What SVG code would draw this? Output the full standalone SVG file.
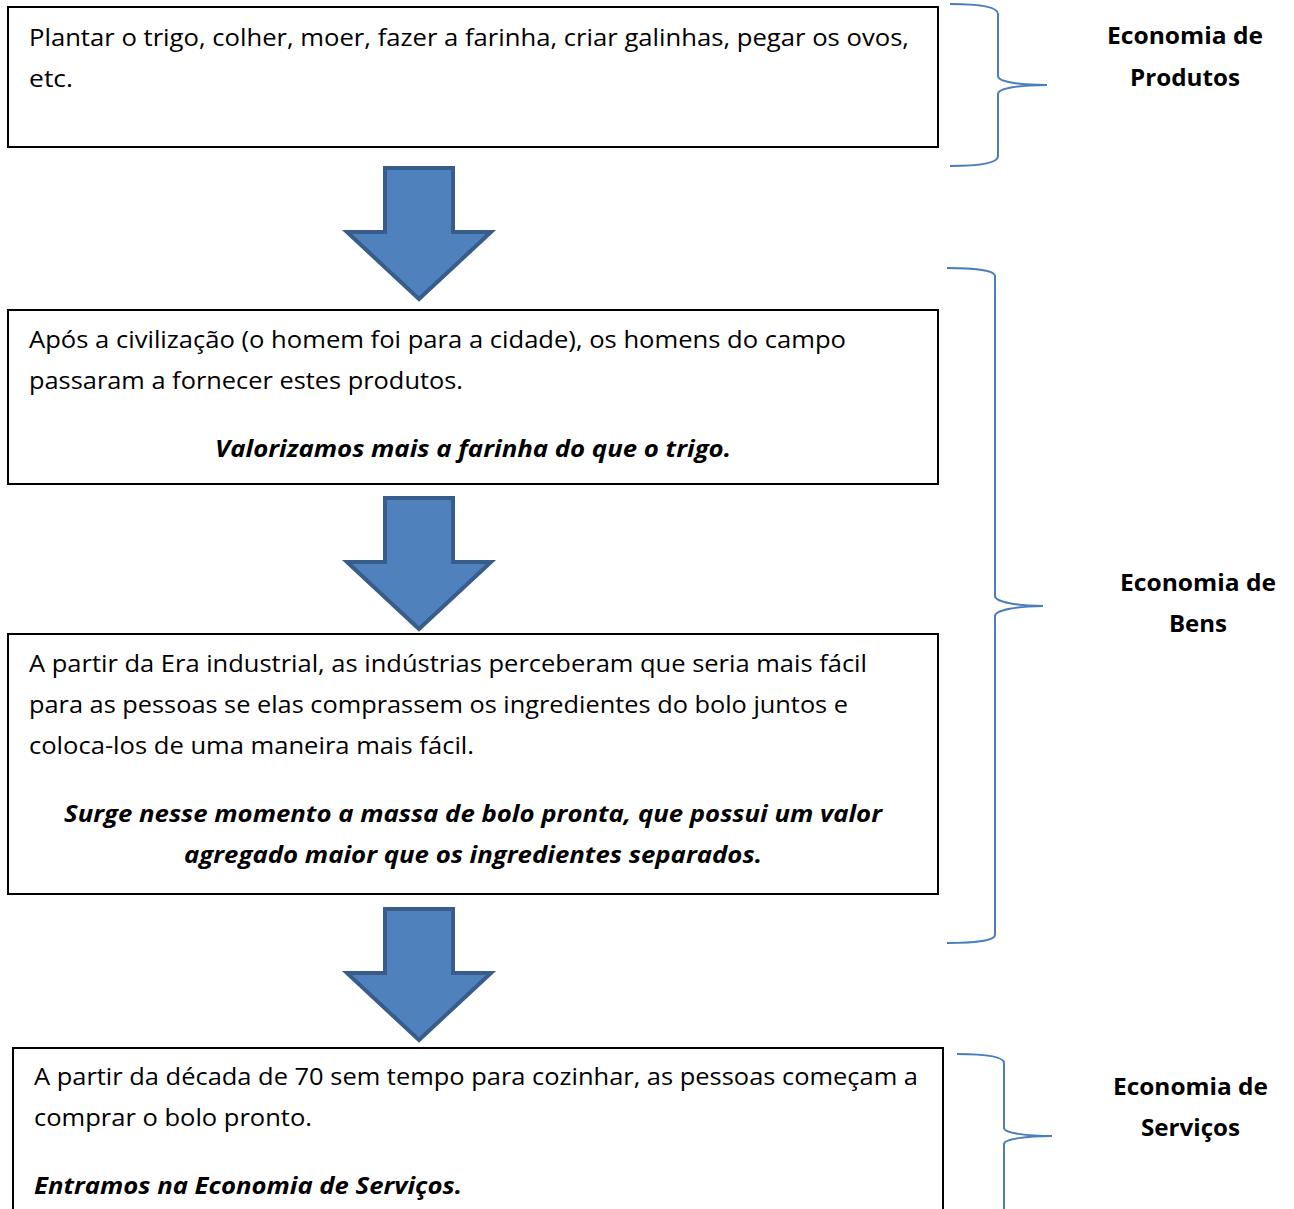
<svg xmlns="http://www.w3.org/2000/svg" width="1294" height="1209" viewBox="0 0 1294 1209">
<style>
.box{fill:#fff;stroke:#000;stroke-width:2}
.t{font-family:"Open Sans","Noto Sans","Liberation Sans",sans-serif;font-size:24px;fill:#000}
.bi{font-weight:bold;font-style:italic}
.b{font-weight:bold}
.arrow{fill:#4F81BD;stroke:#385D8A;stroke-width:4;stroke-linejoin:miter}
.brace{fill:none;stroke:#4A7EBB;stroke-width:2}
</style>
<rect width="1294" height="1209" fill="#fff"/>
<g id="box1">
<rect class="box" x="8" y="7" width="930" height="140"/>
<text class="t" x="29" y="46" textLength="880" lengthAdjust="spacingAndGlyphs">Plantar o trigo, colher, moer, fazer a farinha, criar galinhas, pegar os ovos,</text>
<text class="t" x="29" y="87" textLength="44" lengthAdjust="spacingAndGlyphs">etc.</text>
</g>
<g id="box2">
<rect class="box" x="8" y="310" width="930" height="174"/>
<text class="t" x="29" y="348" textLength="817" lengthAdjust="spacingAndGlyphs">Após a civilização (o homem foi para a cidade), os homens do campo</text>
<text class="t" x="29" y="389" textLength="434" lengthAdjust="spacingAndGlyphs">passaram a fornecer estes produtos.</text>
<text class="t bi" x="215" y="457" textLength="516" lengthAdjust="spacingAndGlyphs">Valorizamos mais a farinha do que o trigo.</text>
</g>
<g id="box3">
<rect class="box" x="8" y="634" width="930" height="260"/>
<text class="t" x="29" y="672" textLength="838" lengthAdjust="spacingAndGlyphs">A partir da Era industrial, as indústrias perceberam que seria mais fácil</text>
<text class="t" x="29" y="713" textLength="819" lengthAdjust="spacingAndGlyphs">para as pessoas se elas comprassem os ingredientes do bolo juntos e</text>
<text class="t" x="29" y="754" textLength="445" lengthAdjust="spacingAndGlyphs">coloca-los de uma maneira mais fácil.</text>
<text class="t bi" x="64" y="822" textLength="818" lengthAdjust="spacingAndGlyphs">Surge nesse momento a massa de bolo pronta, que possui um valor</text>
<text class="t bi" x="184" y="863" textLength="578" lengthAdjust="spacingAndGlyphs">agregado maior que os ingredientes separados.</text>
</g>
<g id="box4">
<rect class="box" x="13" y="1048" width="930" height="200"/>
<text class="t" x="34" y="1085" textLength="884" lengthAdjust="spacingAndGlyphs">A partir da década de 70 sem tempo para cozinhar, as pessoas começam a</text>
<text class="t" x="34" y="1126" textLength="278" lengthAdjust="spacingAndGlyphs">comprar o bolo pronto.</text>
<text class="t bi" x="34" y="1194" textLength="428" lengthAdjust="spacingAndGlyphs">Entramos na Economia de Serviços.</text>
</g>
<g id="label-produtos">
<text class="t b" x="1107" y="44" textLength="156" lengthAdjust="spacingAndGlyphs">Economia de</text>
<text class="t b" x="1130" y="86" textLength="110" lengthAdjust="spacingAndGlyphs">Produtos</text>
</g>
<g id="label-bens">
<text class="t b" x="1120" y="591" textLength="156" lengthAdjust="spacingAndGlyphs">Economia de</text>
<text class="t b" x="1169" y="632" textLength="58" lengthAdjust="spacingAndGlyphs">Bens</text>
</g>
<g id="label-servicos">
<text class="t b" x="1113" y="1095" textLength="155" lengthAdjust="spacingAndGlyphs">Economia de</text>
<text class="t b" x="1141" y="1136" textLength="99" lengthAdjust="spacingAndGlyphs">Serviços</text>
</g>
<g id="connectors">
<polygon class="arrow" points="385,168 453,168 453,232 491,232 419,299 347,232 385,232"/>
<polygon class="arrow" points="385,498 453,498 453,562 491,562 419,629 347,562 385,562"/>
<polygon class="arrow" points="385,909 453,909 453,973 491,973 419,1040 347,973 385,973"/>
<path class="brace" d="M950,4 C975,4 998,6 998,14 L998,76 C998,82 1020,85 1047,85 C1020,85 998,88 998,94 L998,156 C998,164 975,166 950,166"/>
<path class="brace" d="M947,268 C972,268 995,270 995,276 L995,596 C995,602 1018,606 1043,606 C1018,606 995,610 995,616 L995,935 C995,941 972,943 947,943"/>
<path class="brace" d="M957,1054 C982,1054 1004,1056 1004,1063 L1004,1128 C1004,1133 1027,1136 1052,1136 C1027,1136 1004,1139 1004,1144 L1004,1215"/>
</g>
</svg>
